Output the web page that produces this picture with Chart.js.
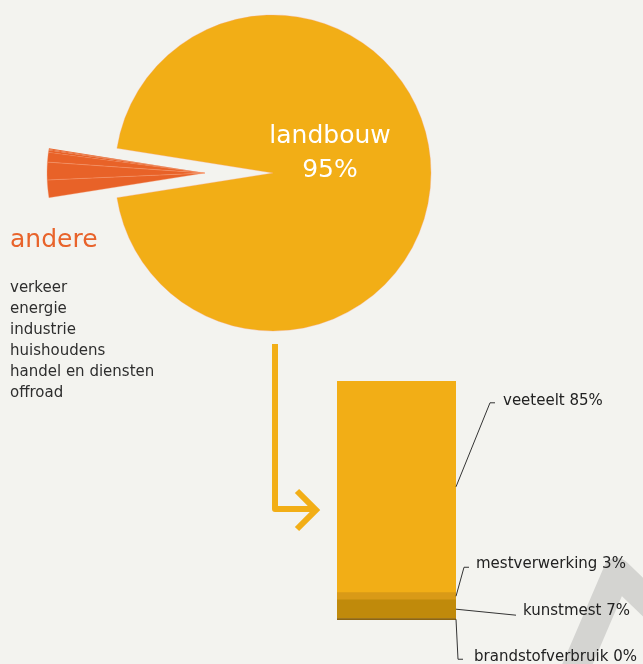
<!DOCTYPE html>
<html>
<head>
<meta charset="utf-8">
<script src="https://cdn.jsdelivr.net/npm/chart.js@4"></script>
<style>
  html, body { margin: 0; padding: 0; }
  body { width: 643px; height: 664px; background: #f3f3ef; position: relative; overflow: hidden;
         font-family: "DejaVu Sans", sans-serif; }
  #watermark, #arrow { position: absolute; left: 0; top: 0; }
  #pie { position: absolute; left: 0; top: 0; }
  #bar { position: absolute; left: 320px; top: 360px; }
  #andere-title { position: absolute; left: 10px; top: 223px; font-size: 25px; line-height: 32px; color: #e8632b; }
  #andere-list { position: absolute; left: 10px; top: 277px; font-size: 15px; line-height: 21px; color: #2e2e2e; }
</style>
</head>
<body>
<svg id="watermark" width="643" height="664">
  <polyline points="560,705 617,572 675,628" fill="none" stroke="#d4d4d1" stroke-width="28" stroke-linejoin="round"/>
</svg>
<svg id="arrow" width="643" height="664">
  <path d="M275 344 V509 H316" fill="none" stroke="#f2ae16" stroke-width="6" stroke-linejoin="round"/>
  <path d="M297 491 L316 510 L297 529" fill="none" stroke="#f2ae16" stroke-width="6"/>
</svg>
<canvas id="pie" width="546" height="346"></canvas>
<canvas id="bar" width="323" height="304"></canvas>
<div id="andere-title">andere</div>
<div id="andere-list"></div>

<script>
// pie: landbouw plus the "andere" sources
const pieLabels = ["landbouw", "verkeer", "energie", "industrie", "huishoudens", "handel en diensten", "offroad"];
const pieValues = [95, 1.8, 1.8, 1.0, 0.2, 0.1, 0.1];

// bar: breakdown of landbouw, top to bottom
const barLabels = ["veeteelt", "mestverwerking", "kunstmest", "brandstofverbruik"];
const barValues = [84.2, 2.9, 7.4, 0.6];
const barPercentText = ["85%", "3%", "7%", "0%"];

const yellow = "#f2ae16";
const orange = "#e86228";
const barColors = ["#f2ae16", "#d99a17", "#c08a0b", "#8c6514"];

document.getElementById("andere-list").innerHTML = pieLabels.slice(1).join("<br>");

// move the small slices away from the main pie
const explodePlugin = {
  id: "explode",
  afterUpdate(chart) {
    const meta = chart.getDatasetMeta(0);
    meta.data.forEach(function(arc, i) {
      if (i > 0) arc.x -= 68;
    });
  },
  afterDatasetsDraw(chart) {
    const arc = chart.getDatasetMeta(0).data[0];
    const ctx = chart.ctx;
    ctx.save();
    ctx.fillStyle = "#ffffff";
    ctx.textAlign = "center";
    ctx.textBaseline = "alphabetic";
    ctx.font = "25px 'DejaVu Sans'";
    ctx.fillText(pieLabels[0], arc.x + 57, arc.y - 30);
    ctx.fillText(pieValues[0] + "%", arc.x + 57, arc.y + 4);
    ctx.restore();
  }
};

new Chart(document.getElementById("pie").getContext("2d"), {
  type: "pie",
  data: {
    labels: pieLabels,
    datasets: [{
      data: pieValues,
      backgroundColor: pieValues.map(function(v, i) { return i === 0 ? yellow : orange; }),
      borderColor: "rgba(250,160,120,0.55)",
      borderWidth: pieValues.map(function(v) { return v >= 1 ? 0.6 : 0; }),
      hoverOffset: 0
    }]
  },
  options: {
    responsive: false,
    animation: false,
    events: [],
    rotation: 279,
    radius: 158,
    layout: { padding: { left: 115, right: 115, top: 15, bottom: 15 } },
    plugins: { legend: { display: false }, tooltip: { enabled: false } }
  },
  plugins: [explodePlugin]
});

// leader lines: elbow relative to the right-middle of each segment, then tick and text
const leaders = [
  { elbow: [34, -84], tick: 5, text: [13, 2] },
  { elbow: [8, -29], tick: 5, text: [12, 1] },
  { elbow: [60, 6], tick: 0, text: [7, 0] },
  { elbow: [2, 40], tick: 5, text: [16, 2] }
];

const leaderPlugin = {
  id: "leaders",
  afterDatasetsDraw(chart) {
    const ctx = chart.ctx;
    ctx.save();
    ctx.strokeStyle = "#333";
    ctx.lineWidth = 1;
    ctx.fillStyle = "#222";
    ctx.font = "15px 'DejaVu Sans'";
    ctx.textBaseline = "alphabetic";
    barLabels.forEach(function(label, i) {
      const dsIndex = barLabels.length - 1 - i;
      const bar = chart.getDatasetMeta(dsIndex).data[0];
      const ax = bar.x + bar.width / 2;
      const ay = (bar.y + bar.base) / 2;
      const l = leaders[i];
      const ex = ax + l.elbow[0], ey = ay + l.elbow[1];
      ctx.beginPath();
      ctx.moveTo(ax, ay);
      ctx.lineTo(ex, ey);
      if (l.tick) ctx.lineTo(ex + l.tick, ey);
      ctx.stroke();
      ctx.fillText(label + " " + barPercentText[i], ex + l.text[0], ey + l.text[1]);
    });
    ctx.restore();
  }
};

const barTotal = barValues.reduce(function(a, b) { return a + b; }, 0);

new Chart(document.getElementById("bar").getContext("2d"), {
  type: "bar",
  data: {
    labels: ["landbouw"],
    datasets: barLabels.map(function(label, i) {
      return { label: label, data: [barValues[i]], backgroundColor: barColors[i], borderWidth: 0 };
    }).reverse()
  },
  options: {
    responsive: false,
    animation: false,
    events: [],
    barPercentage: 1,
    categoryPercentage: 1,
    layout: { padding: { left: 17, right: 187, top: 21, bottom: 44 } },
    scales: {
      x: { stacked: true, display: false },
      y: { stacked: true, display: false, min: 0, max: barTotal }
    },
    plugins: { legend: { display: false }, tooltip: { enabled: false } }
  },
  plugins: [leaderPlugin]
});
</script>
</body>
</html>
